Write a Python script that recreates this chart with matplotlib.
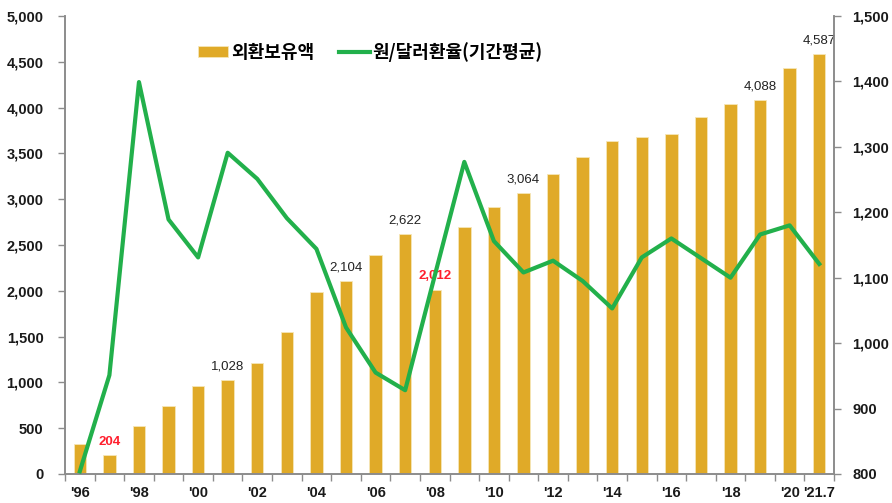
import matplotlib
matplotlib.use("Agg")
import matplotlib.pyplot as plt
from matplotlib.ticker import FuncFormatter, FixedLocator

plt.rcParams['font.family'] = ['Noto Sans CJK KR', 'DejaVu Sans']

# 외환보유액 (억달러) / 원-달러 환율 (기간평균)
years = ["'96", "'97", "'98", "'99", "'00", "'01", "'02", "'03", "'04", "'05",
         "'06", "'07", "'08", "'09", "'10", "'11", "'12", "'13", "'14", "'15",
         "'16", "'17", "'18", "'19", "'20", "'21.7"]
reserves = [332, 204, 520, 740, 962, 1028, 1214, 1552, 1991, 2104,
            2390, 2622, 2012, 2700, 2916, 3064, 3270, 3465, 3636, 3680,
            3711, 3893, 4037, 4088, 4431, 4587]
fx_rate = [804, 951, 1399, 1189, 1131, 1291, 1251, 1191, 1144, 1024,
           955, 928, 1103, 1277, 1156, 1108, 1126, 1095, 1053, 1131,
           1160, 1130, 1100, 1166, 1180, 1121]

labeled = {1: "red", 5: "black", 9: "black", 11: "black", 12: "red",
           15: "black", 23: "black", 25: "black"}
shown_ticks = list(range(0, 25, 2)) + [25]

BAR_COLOR = "#E0AA28"
LINE_COLOR = "#22B04B"
AXIS_COLOR = "#8C8C8C"
NUM_FONT = "Liberation Sans"

fig = plt.figure(figsize=(8.92, 5.03), dpi=100)
ax = fig.add_axes([0.0729, 0.0577, 0.8621, 0.9105])
x = list(range(len(years)))

bars = ax.bar(x, reserves, width=0.42, color=BAR_COLOR, edgecolor="#F6E6B8",
              linewidth=0.6, label="외환보유액", zorder=2)
ax.set_xlim(-0.5, len(years) - 0.5)
ax.set_ylim(0, 5000)
ax.set_yticks(range(0, 5001, 500))
ax.yaxis.set_major_formatter(FuncFormatter(lambda v, p: f"{int(v):,}"))

for i, col in labeled.items():
    red = col == "red"
    ax.text(i, reserves[i] + 80, f"{reserves[i]:,}", ha="center", va="bottom",
            fontsize=9.5, family=NUM_FONT, color="#FF1E2D" if red else "#222222",
            fontweight="bold" if red else "normal", zorder=5)

ax2 = ax.twinx()
line, = ax2.plot(x, fx_rate, color=LINE_COLOR, linewidth=3,
                 label="원/달러환율(기간평균)", zorder=3)
ax2.set_ylim(800, 1500)
ax2.set_yticks(range(800, 1501, 100))
ax2.yaxis.set_major_formatter(FuncFormatter(lambda v, p: f"{int(v):,}"))

# x ticks: marks at category boundaries, labels every other year
ax.set_xticks(shown_ticks)
ax.set_xticklabels([years[i] for i in shown_ticks])
ax.xaxis.set_minor_locator(FixedLocator([i - 0.5 for i in range(len(years) + 1)]))
ax.tick_params(axis="x", which="major", length=0, pad=9, labelsize=10.5)
ax.tick_params(axis="x", which="minor", length=5, color=AXIS_COLOR, width=1)
ax.tick_params(axis="y", length=5, color=AXIS_COLOR, width=1, labelsize=10.5, pad=10.5)
ax2.tick_params(axis="y", length=5, color=AXIS_COLOR, width=1, labelsize=10.5, pad=8)

for lab in ax.get_xticklabels() + ax.get_yticklabels() + ax2.get_yticklabels():
    lab.set_fontweight("bold")
    lab.set_family(NUM_FONT)
    lab.set_color("#1a1a1a")

for a in (ax, ax2):
    a.spines["top"].set_visible(False)
    for s in ("left", "right", "bottom"):
        a.spines[s].set_color(AXIS_COLOR)
        a.spines[s].set_linewidth(1.2)

ax.set_zorder(ax2.get_zorder() - 1)
ax2.patch.set_visible(False)

fig.legend([bars, line], ["외환보유액", "원/달러환율(기간평균)"], loc="center",
           bbox_to_anchor=(0.415, 0.897), ncol=2, frameon=False,
           prop={"weight": "bold", "size": 13}, handlelength=1.7,
           handleheight=0.6, columnspacing=1.4, handletextpad=0.15)

fig.savefig("out.png", dpi=100)
